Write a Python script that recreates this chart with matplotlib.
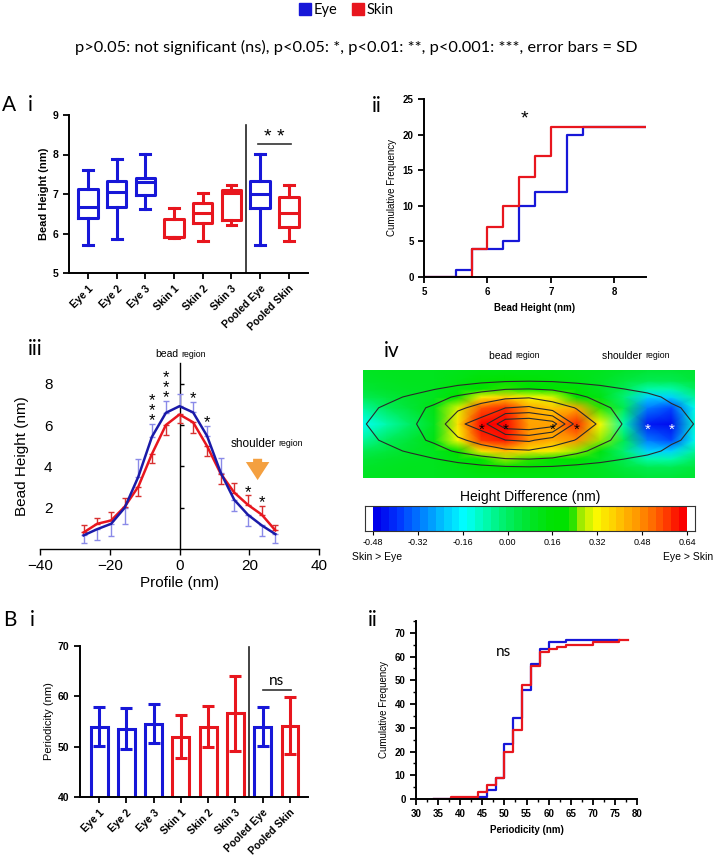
import numpy as np
import matplotlib.pyplot as plt
from matplotlib.colors import LinearSegmentedColormap, ListedColormap
from matplotlib.lines import Line2D
from matplotlib.ticker import MultipleLocator

# ---------------- data ----------------
groups = ["Eye 1", "Eye 2", "Eye 3", "Skin 1", "Skin 2", "Skin 3", "Pooled Eye", "Pooled Skin"]

# A i  bead height box plots (nm)
bead_min = [5.70, 5.86, 6.61, 5.88, 5.82, 6.22, 5.70, 5.82]
bead_q1 = [6.38, 6.66, 6.97, 5.90, 6.26, 6.34, 6.65, 6.17]
bead_med = [6.67, 7.04, 7.31, 5.90, 6.51, 7.03, 6.99, 6.51]
bead_q3 = [7.12, 7.34, 7.41, 6.36, 6.76, 7.10, 7.34, 6.92]
bead_max = [7.60, 7.88, 8.02, 6.65, 7.02, 7.24, 8.02, 7.24]

# A ii  cumulative frequency of bead height
bh_edges_eye = [5.0, 5.5, 5.75, 6.0, 6.25, 6.5, 6.75, 7.0, 7.25, 7.5, 8.5]
bh_cum_eye = [0, 1, 4, 4, 5, 10, 12, 12, 20, 21, 21]
bh_edges_skin = [5.0, 5.75, 6.0, 6.25, 6.5, 6.75, 7.0, 8.5]
bh_cum_skin = [0, 4, 7, 10, 14, 17, 21, 21]

# A iii  mean bead profile
profile_x = [-27.5, -23.6, -19.6, -15.7, -11.8, -7.9, -3.9, 0.0, 3.9, 7.9, 11.8, 15.7, 19.6, 23.6, 27.5]
eye_profile = [0.66, 0.96, 1.22, 2.00, 3.50, 5.43, 6.59, 6.91, 6.61, 5.47, 3.70, 2.38, 1.66, 1.14, 0.72]
skin_profile = [0.80, 1.22, 1.38, 2.05, 3.02, 4.60, 6.00, 6.51, 6.13, 4.98, 3.65, 2.73, 2.14, 1.66, 0.90]
eye_sd = [0.35, 0.51, 0.58, 0.78, 0.86, 0.60, 0.56, 0.58, 0.51, 0.50, 0.72, 0.56, 0.57, 0.53, 0.43]
skin_sd = [0.37, 0.29, 0.39, 0.43, 0.45, 0.45, 0.49, 0.40, 0.50, 0.48, 0.49, 0.45, 0.45, 0.40, 0.24]
profile_sig = {-7.9: "*\n*\n*", -3.9: "*\n*\n*", 3.9: "*", 7.9: "*", 19.6: "*", 23.6: "*"}

# A iv  height difference map (rows bottom -> top, columns = profile_x)
map_rows = [-1.0, -0.8, -0.65, -0.5, -0.3, 0.0, 0.3, 0.5, 0.65, 0.8, 1.0]
height_grid = [
    [0.05, 0.08, 0.10, 0.13, 0.18, 0.22, 0.28, 0.30, 0.28, 0.22, 0.18, 0.13, 0.10, 0.08, 0.05],
    [0.15, 0.25, 0.35, 0.45, 0.60, 0.75, 0.90, 0.95, 0.90, 0.75, 0.60, 0.45, 0.35, 0.25, 0.15],
    [0.30, 0.50, 0.70, 0.95, 1.30, 1.70, 1.95, 2.00, 1.90, 1.60, 1.30, 1.00, 0.80, 0.55, 0.35],
    [0.55, 0.80, 1.10, 1.60, 2.15, 2.50, 2.80, 2.90, 2.60, 2.20, 1.75, 1.50, 1.20, 0.85, 0.60],
    [0.80, 1.10, 1.70, 2.17, 2.80, 3.35, 3.98, 4.15, 3.50, 2.95, 2.20, 1.75, 1.40, 1.10, 0.85],
    [0.90, 1.60, 1.90, 2.30, 3.80, 4.45, 6.83, 7.00, 6.50, 3.60, 2.87, 1.93, 1.60, 1.30, 0.98],
    [0.80, 1.10, 1.70, 2.17, 2.80, 3.35, 3.98, 4.15, 3.50, 2.95, 2.20, 1.75, 1.40, 1.10, 0.85],
    [0.55, 0.80, 1.10, 1.60, 2.15, 2.50, 2.80, 2.90, 2.60, 2.20, 1.75, 1.50, 1.20, 0.85, 0.60],
    [0.30, 0.50, 0.70, 0.95, 1.30, 1.70, 1.95, 2.00, 1.90, 1.60, 1.30, 1.00, 0.80, 0.55, 0.35],
    [0.15, 0.25, 0.35, 0.45, 0.60, 0.75, 0.90, 0.95, 0.90, 0.75, 0.60, 0.45, 0.35, 0.25, 0.15],
    [0.05, 0.08, 0.10, 0.13, 0.18, 0.22, 0.28, 0.30, 0.28, 0.22, 0.18, 0.13, 0.10, 0.08, 0.05],
]
diff_grid = [
    [0.09, 0.10, 0.10, 0.10, 0.11, 0.12, 0.12, 0.12, 0.12, 0.11, 0.10, 0.08, 0.06, 0.06, 0.07],
    [0.08, 0.09, 0.10, 0.10, 0.12, 0.15, 0.16, 0.15, 0.14, 0.12, 0.09, 0.05, 0.02, 0.02, 0.05],
    [0.06, 0.08, 0.09, 0.10, 0.14, 0.22, 0.26, 0.24, 0.22, 0.16, 0.09, 0.02, -0.08, -0.08, 0.00],
    [0.02, 0.05, 0.08, 0.10, 0.20, 0.36, 0.42, 0.36, 0.34, 0.26, 0.13, -0.02, -0.22, -0.22, -0.06],
    [-0.06, 0.01, 0.06, 0.12, 0.32, 0.58, 0.62, 0.48, 0.44, 0.48, 0.26, 0.02, -0.32, -0.38, -0.14],
    [-0.15, -0.08, 0.00, 0.10, 0.36, 0.64, 0.64, 0.46, 0.46, 0.60, 0.32, -0.08, -0.44, -0.46, -0.12],
    [-0.06, 0.01, 0.06, 0.12, 0.30, 0.55, 0.60, 0.45, 0.40, 0.45, 0.24, 0.02, -0.32, -0.38, -0.14],
    [0.02, 0.05, 0.08, 0.10, 0.18, 0.34, 0.38, 0.32, 0.30, 0.22, 0.12, -0.02, -0.22, -0.22, -0.06],
    [0.06, 0.08, 0.09, 0.10, 0.14, 0.22, 0.24, 0.22, 0.20, 0.15, 0.09, 0.02, -0.08, -0.08, 0.00],
    [0.08, 0.09, 0.10, 0.10, 0.12, 0.15, 0.16, 0.15, 0.14, 0.12, 0.09, 0.05, 0.02, 0.02, 0.05],
    [0.09, 0.10, 0.10, 0.10, 0.11, 0.12, 0.12, 0.12, 0.12, 0.11, 0.10, 0.08, 0.06, 0.06, 0.07],
]
contour_levels = [1, 2, 3, 4, 5, 6]
map_stars_dark = [-7.9, -3.9, 3.9, 7.9]
map_stars_light = [19.6, 23.6]
cb_ticks = [-0.48, -0.32, -0.16, 0.00, 0.16, 0.32, 0.48, 0.64]

# B i  periodicity
period_mean = [54.0, 53.6, 54.6, 52.0, 54.0, 56.6, 54.0, 54.2]
period_sd = [3.95, 4.1, 3.9, 4.3, 4.0, 7.4, 3.95, 5.6]

# B ii  cumulative frequency of periodicity
per_edges_eye = [34, 44, 46, 48, 50, 52, 54, 56, 58, 60, 64, 76]
per_cum_eye = [0, 1, 4, 9, 23, 34, 46, 57, 63, 66, 67, 67]
per_edges_skin = [34, 38, 44, 46, 48, 50, 52, 54, 56, 58, 60, 62, 64, 70, 76, 78]
per_cum_skin = [0, 1, 3, 6, 9, 20, 29, 48, 56, 62, 63, 64, 65, 66, 67, 67]

# ---------------- styling ----------------
BLUE = "#1717d8"
RED = "#e8161e"
plt.rcParams["font.family"] = ["Liberation Sans", "DejaVu Sans"]
CAL = ["Lato", "DejaVu Sans"]

W, H = 713, 858
fig = plt.figure(figsize=(W / 100, H / 100), dpi=100)


def px_axes(left, top, right, bottom):
    return fig.add_axes([left / W, 1 - bottom / H, (right - left) / W, (bottom - top) / H])


def group_color(name):
    return BLUE if "Eye" in name else RED


def prism_style(ax):
    for s in ["top", "right"]:
        ax.spines[s].set_visible(False)
    for s in ["left", "bottom"]:
        ax.spines[s].set_linewidth(1.4)
    ax.tick_params(width=1.3, length=4, labelsize=7.5)
    for lab in ax.get_yticklabels():
        lab.set_fontweight("bold")


def fig_text(x, y, s, **kw):
    fig.text(x / W, 1 - y / H, s, **kw)


# ---------------- header ----------------
handles = [Line2D([], [], ls="none", marker="s", ms=8, color=BLUE),
           Line2D([], [], ls="none", marker="s", ms=8, color=RED)]
fig.legend(handles, ["Eye", "Skin"], loc="center", bbox_to_anchor=(346 / W, 1 - 10 / H), ncol=2,
           frameon=False, prop={"family": CAL, "size": 10.5}, handletextpad=0.2, columnspacing=1.0,
           handlelength=0.8)
fig_text(356, 47, "p>0.05: not significant (ns), p<0.05: *, p<0.01: **, p<0.001: ***, error bars = SD",
         ha="center", va="center", family=CAL, size=11.8)

for x, y, s in [(2, 105, "A"), (28, 105, "i"), (372, 106, "ii"), (28, 349, "iii"), (384, 351, "iv"),
                (3, 620, "B"), (30, 620, "i"), (368, 620, "ii")]:
    fig_text(x, y, s, ha="left", va="center", family=CAL, size=15)

pos = np.arange(len(groups))

# ---------------- A i ----------------
ax = px_axes(69, 115, 308, 273)
for i, name in enumerate(groups):
    c = group_color(name)
    st = dict(whislo=bead_min[i], q1=bead_q1[i], med=bead_med[i], q3=bead_q3[i], whishi=bead_max[i])
    lp = dict(color=c, lw=2.2)
    ax.bxp([st], positions=[i], widths=0.68, capwidths=0.34, showfliers=False, manage_ticks=False,
           boxprops=lp, whiskerprops=lp, capprops=lp, medianprops=lp)
ax.set_xlim(-0.66, 7.67)
ax.set_ylim(5, 9)
ax.set_yticks([5, 6, 7, 8, 9])
ax.set_xticks(pos)
ax.set_xticklabels(groups, rotation=45, ha="right", rotation_mode="anchor", fontweight="bold")
ax.set_ylabel("Bead Height (nm)", fontsize=8, fontweight="bold", labelpad=3)
prism_style(ax)
ax.axvline(5.5, ymax=(8.75 - 5) / 4, color="#222222", lw=1.2)
ax.plot([5.93, 7.07], [8.26, 8.26], color="#333333", lw=1.2)
ax.text(6.5, 8.22, "* *", ha="center", va="bottom", fontsize=14)

# ---------------- A ii ----------------
ax = px_axes(424, 99, 646, 277)
ax.step(bh_edges_eye, bh_cum_eye, where="post", color=BLUE, lw=1.6)
ax.step(bh_edges_skin, bh_cum_skin, where="post", color=RED, lw=1.6)
ax.set_xlim(5, 8.5)
ax.set_ylim(0, 25)
ax.set_xticks([5, 6, 7, 8])
ax.set_yticks([0, 5, 10, 15, 20, 25])
prism_style(ax)
ax.tick_params(labelsize=7)
for lab in ax.get_xticklabels():
    lab.set_fontweight("bold")
ax.set_xlabel("Bead Height (nm)", fontsize=7, fontweight="bold")
ax.set_ylabel("Cumulative Frequency", fontsize=7, labelpad=4)
ax.text(6.58, 21.0, "*", ha="center", va="bottom", fontsize=14)

# ---------------- A iii ----------------
ax = px_axes(40, 363, 319, 549)
eye_up = [e >= s for e, s in zip(eye_profile, skin_profile)]
eye_err = [[0 if u else d for u, d in zip(eye_up, eye_sd)], [d if u else 0 for u, d in zip(eye_up, eye_sd)]]
skin_err = [[d if u else 0 for u, d in zip(eye_up, skin_sd)], [0 if u else d for u, d in zip(eye_up, skin_sd)]]
ax.errorbar(profile_x, eye_profile, yerr=eye_err, fmt="none", ecolor="#8a8ae8", elinewidth=1.0,
            capsize=2.5, capthick=1.0)
ax.errorbar(profile_x, skin_profile, yerr=skin_err, fmt="none", ecolor="#d83030", elinewidth=1.0,
            capsize=2.5, capthick=1.0)
ax.plot(profile_x, skin_profile, color=RED, lw=1.8)
ax.plot(profile_x, eye_profile, color="#1a1aa8", lw=1.8)
for i, x in enumerate(profile_x):
    if x in profile_sig:
        top = eye_profile[i] + eye_sd[i] if eye_up[i] else skin_profile[i] + skin_sd[i]
        ax.annotate(profile_sig[x], (x, top), xytext=(0, -3), textcoords="offset points",
                    ha="center", va="bottom", fontsize=12, linespacing=0.6)
ax.set_xlim(-40, 40)
ax.set_ylim(0, 9)
for s in ["top", "right", "left"]:
    ax.spines[s].set_visible(False)
ax.spines["bottom"].set_linewidth(1.0)
ax.set_xticks([-40, -20, 0, 20, 40])
ax.set_yticks([2, 4, 6, 8])
ax.tick_params(axis="y", length=0, pad=-9, labelsize=11)
ax.tick_params(axis="x", length=4, width=1.0, labelsize=11)
ax.set_xlabel("Profile (nm)", fontsize=11, labelpad=2)
ax.text(-0.065, 0.5, "Bead Height (nm)", transform=ax.transAxes, rotation=90, ha="center",
        va="center", fontsize=11)
sec = ax.secondary_yaxis(0.5)
sec.set_yticks([2, 4, 6, 8])
sec.yaxis.set_ticks_position("right")
sec.tick_params(direction="out", length=3, width=1.0, labelleft=False, labelright=False)
for s in sec.spines.values():
    s.set_linewidth(1.0)
ax.text(-0.4, 9.2, "bead", ha="right", va="bottom", fontsize=7.5)
ax.text(0.4, 9.2, "region", ha="left", va="bottom", fontsize=6.3)
ax.text(27.5, 5.1, "shoulder", ha="right", va="center", fontsize=8.5)
ax.text(28.3, 5.1, "region", ha="left", va="center", fontsize=6.3)
ax.annotate("", xy=(22.4, 3.2), xytext=(22.4, 4.5),
            arrowprops=dict(arrowstyle="simple,head_width=1.3,head_length=1.0,tail_width=0.5",
                            color="#f4a040", lw=0, mutation_scale=13))

# ---------------- A iv ----------------
anchors = [(-0.48, (0, 0, 235)), (-0.40, (0, 55, 255)), (-0.32, (0, 125, 255)), (-0.24, (0, 195, 255)),
           (-0.16, (0, 255, 255)), (-0.08, (0, 250, 170)), (0.00, (0, 238, 95)), (0.08, (0, 228, 40)),
           (0.16, (0, 226, 0)), (0.235, (0, 226, 0)), (0.25, (130, 230, 0)), (0.32, (250, 250, 0)),
           (0.40, (255, 200, 0)), (0.48, (255, 148, 0)), (0.56, (255, 80, 0)), (0.64, (250, 0, 0))]
lo, hi = anchors[0][0], anchors[-1][0]
base = LinearSegmentedColormap.from_list(
    "hd", [((v - lo) / (hi - lo), tuple(ch / 255 for ch in c)) for v, c in anchors])
n_bands = 40
cmap = ListedColormap(base(np.linspace(0, 1, n_bands)))

ax = px_axes(363, 370, 695, 478)
X, Y = np.meshgrid(profile_x, map_rows)
ax.pcolormesh(X, Y, np.array(diff_grid), shading="gouraud", cmap=base, vmin=lo, vmax=hi)
ax.contour(X, Y, np.array(height_grid), levels=contour_levels, colors="#2a2a2a", linewidths=0.8)
for x in map_stars_dark:
    ax.annotate("*", (x, 0), xytext=(0, -4), textcoords="offset points", ha="center", va="center",
                fontsize=11, color="black")
for x in map_stars_light:
    ax.annotate("*", (x, 0), xytext=(0, -4), textcoords="offset points", ha="center", va="center",
                fontsize=11, color="white")
ax.set_xlim(-27.5, 27.5)
ax.set_ylim(-1, 1)
ax.axis("off")
fig_text(515, 356, "bead ", ha="right", va="center", fontsize=7.5)
fig_text(515, 356, "region", ha="left", va="center", fontsize=6.3)
fig_text(645, 356, "shoulder ", ha="right", va="center", fontsize=7.5)
fig_text(645, 356, "region", ha="left", va="center", fontsize=6.3)

cax = px_axes(365, 506, 695, 531)
edges = np.linspace(lo, hi, n_bands + 1)
cax.pcolormesh(edges, [0, 1], [0.5 * (edges[:-1] + edges[1:])], cmap=cmap, vmin=lo, vmax=hi)
pad = (hi - lo) * 8 / 314
cax.set_xlim(lo - pad, hi + pad)
cax.set_ylim(0, 1)
cax.set_yticks([])
cax.set_xticks(cb_ticks)
cax.set_xticklabels([f"{t:.2f}" for t in cb_ticks])
cax.tick_params(axis="x", length=3, width=0.8, labelsize=6.5, pad=2)
for s in cax.spines.values():
    s.set_linewidth(0.8)
    s.set_color("#333333")
fig_text(530, 497, "Height Difference (nm)", ha="center", va="center", fontsize=10)
fig_text(352, 557, "Skin > Eye", ha="left", va="center", fontsize=7.5)
fig_text(713, 557, "Eye > Skin", ha="right", va="center", fontsize=7.5)

# ---------------- B i ----------------
ax = px_axes(80, 646, 308, 797)
for i, name in enumerate(groups):
    c = group_color(name)
    ax.bar(pos[i], period_mean[i], width=0.62, facecolor="white", edgecolor=c, lw=2.2)
    ax.errorbar(pos[i], period_mean[i], yerr=period_sd[i], fmt="none", ecolor=c, elinewidth=2.2,
                capsize=4, capthick=2.2)
ax.set_xlim(-0.70, 7.66)
ax.set_ylim(40, 70)
ax.set_yticks([40, 50, 60, 70])
ax.set_xticks(pos)
ax.set_xticklabels(groups, rotation=45, ha="right", rotation_mode="anchor", fontweight="bold")
ax.set_ylabel("Periodicity (nm)", fontsize=8, labelpad=3)
prism_style(ax)
ax.axvline(5.5, ymax=(69.8 - 40) / 30, color="#222222", lw=1.2)
ax.plot([6.0, 7.02], [61.3, 61.3], color="#333333", lw=1.2)
ax.text(6.5, 61.6, "ns", ha="center", va="bottom", fontsize=11, family=CAL)

# ---------------- B ii ----------------
ax = px_axes(416, 621, 637, 799)
ax.step(per_edges_eye, per_cum_eye, where="post", color=BLUE, lw=1.6)
ax.step(per_edges_skin, per_cum_skin, where="post", color=RED, lw=1.6)
ax.set_xlim(30, 80)
ax.set_ylim(0, 75)
ax.set_xticks(np.arange(30, 81, 5))
ax.set_yticks(np.arange(0, 71, 10))
ax.xaxis.set_minor_locator(MultipleLocator(2.5))
ax.yaxis.set_minor_locator(MultipleLocator(5))
prism_style(ax)
ax.tick_params(labelsize=7)
ax.tick_params(which="minor", length=2, width=1.0)
for lab in ax.get_xticklabels():
    lab.set_fontweight("bold")
ax.set_xlabel("Periodicity (nm)", fontsize=7, fontweight="bold")
ax.set_ylabel("Cumulative Frequency", fontsize=7, labelpad=4)
ax.text(49.8, 62, "ns", ha="center", va="center", fontsize=11, family=CAL)

fig.savefig("out.png", dpi=100)
